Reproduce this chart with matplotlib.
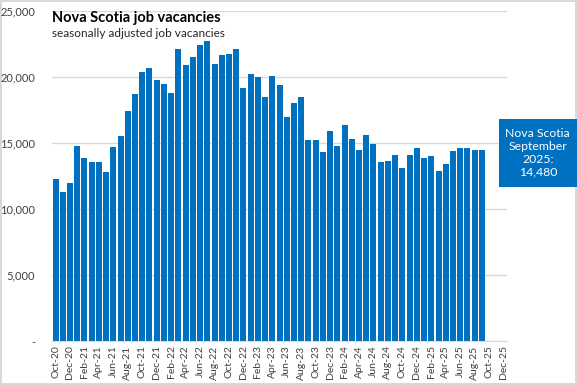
import numpy as np
import matplotlib.pyplot as plt
import pandas as pd
from matplotlib.patches import Rectangle

# Monthly job vacancies, Nova Scotia (seasonally adjusted), Oct-20 .. Sep-25
months = pd.date_range('2020-10-01', '2025-12-01', freq='MS')
vacancies = [
    12300, 11300, 12000, 14800, 13900, 13600, 13600, 12800, 14700, 15500,
    17400, 18700, 20400, 20700, 19800, 19500, 18800, 22100, 20900, 21500,
    22400, 22700, 21000, 21700, 21750, 22100, 19200, 20250, 20000, 18500,
    20100, 19400, 17000, 18000, 18500, 15200, 15250, 14350, 15900, 14800,
    16400, 15300, 14500, 15600, 14900, 13600, 13650, 14100, 13100, 14100,
    14650, 13900, 14050, 12900, 13450, 14400, 14650, 14650, 14500, 14480,
]
labels = [m.strftime('%b-%y') for m in months]
title = 'Nova Scotia job vacancies'
subtitle = 'seasonally adjusted job vacancies'
callout = 'Nova Scotia\nSeptember\n2025:\n' + f'{vacancies[-1]:,}'

plt.rcParams['font.family'] = ['Lato', 'DejaVu Sans']

fig = plt.figure(figsize=(5.77, 3.85), dpi=100)
fig.patch.set_edgecolor('#d9d9d9')
fig.patch.set_linewidth(1.5)
ax = fig.add_axes([0.090, 0.1135, 0.789, 0.858])

x = np.arange(len(months))
blue = '#0070C0'
ax.bar(x[:len(vacancies)], vacancies, width=0.83, color=blue, zorder=2)

ax.set_xlim(-0.5, len(months) - 0.5)
ax.set_ylim(0, 25000)
ax.set_yticks(np.arange(0, 25001, 5000))
ax.set_yticklabels(['-'] + [f'{v:,}' for v in range(5000, 25001, 5000)], fontsize=8, color='#404040')
ax.set_xticks(x[::2])
ax.set_xticklabels(labels[::2], rotation=90, fontsize=7.5, color='#404040')
ax.tick_params(axis='both', length=0)
ax.tick_params(axis='y', pad=12)
ax.tick_params(axis='x', pad=3)
ax.grid(axis='y', color='#d9d9d9', linewidth=1, zorder=0)
for s in ['top', 'right', 'left']:
    ax.spines[s].set_visible(False)
ax.spines['bottom'].set_color('#d9d9d9')

fig.text(0.090, 0.952, title, fontsize=10.5, fontweight='bold', color='black', va='center')
fig.text(0.090, 0.912, subtitle, fontsize=8.5, color='#262626', va='center')

# callout box on the right
fig.patches.append(Rectangle((0.865, 0.514), 0.135, 0.177, transform=fig.transFigure,
                             facecolor=blue, edgecolor='none', zorder=5))
fig.text(0.932, 0.6025, callout, fontsize=8.8, color='white', ha='center', va='center',
         linespacing=1.2, zorder=6)

fig.savefig('out.png', dpi=100)
